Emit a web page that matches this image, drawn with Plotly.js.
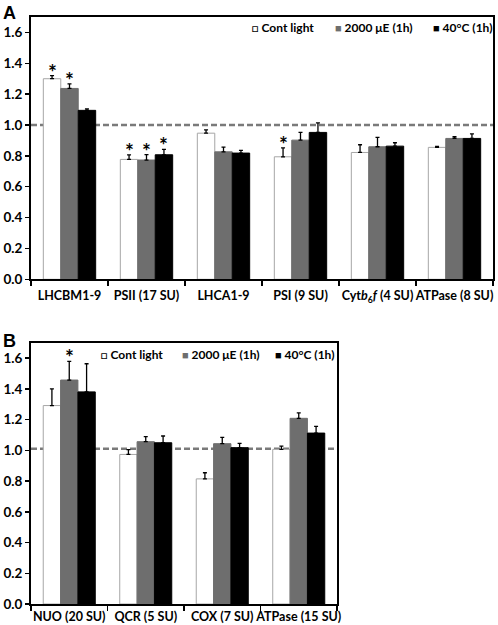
<!DOCTYPE html>
<html>
<head>
<meta charset="utf-8">
<script src="https://cdn.plot.ly/plotly-3.0.1.min.js"></script>
<style>html,body{margin:0;padding:0;background:#fff;}#chart{width:498px;height:625px;}</style>
</head>
<body>
<div id="chart"></div>
<script>
// ---------- data ----------
const seriesNames = ["Cont light", "2000 μE (1h)", "40°C (1h)"];

const categoriesA = ["LHCBM1-9", "PSII (17 SU)", "LHCA1-9", "PSI (9 SU)", "Cyt<i>b</i><sub>6</sub><i>f</i> (4 SU)", "ATPase (8 SU)"];
const contA    = [1.300, 0.777, 0.947, 0.794, 0.822, 0.855];
const contErrA = [0.020, 0.030, 0.022, 0.058, 0.050, 0.006];
const hlA      = [1.237, 0.773, 0.826, 0.902, 0.859, 0.913];
const hlErrA   = [0.030, 0.035, 0.031, 0.050, 0.061, 0.011];
const heatA    = [1.095, 0.807, 0.818, 0.952, 0.863, 0.913];
const heatErrA = [0.010, 0.035, 0.017, 0.062, 0.022, 0.030];
// significance flags [cont, 2000uE, 40C] per category
const sigA = [[1,1,0],[1,1,1],[0,0,0],[1,0,0],[0,0,0],[0,0,0]];

const categoriesB = ["NUO (20 SU)", "QCR (5 SU)", "COX (7 SU)", "ATPase (15 SU)"];
const contB    = [1.291, 0.973, 0.814, 1.006];
const contErrB = [0.109, 0.031, 0.040, 0.021];
const hlB      = [1.457, 1.056, 1.043, 1.208];
const hlErrB   = [0.121, 0.033, 0.041, 0.035];
const heatB    = [1.380, 1.049, 1.017, 1.112];
const heatErrB = [0.183, 0.044, 0.028, 0.044];
const sigB = [[0,1,0],[0,0,0],[0,0,0],[0,0,0]];

const refLineA = 1.0;
const refLineB = 1.01;
const yTicks = [0, 0.2, 0.4, 0.6, 0.8, 1.0, 1.2, 1.4, 1.6];

// ---------- styling ----------
const fills = ["#ffffff", "#6e6e6e", "#000000"];
const edges = ["#a6a6a6", "#6e6e6e", "#000000"];
const FONT = "Lato, 'Open Sans', sans-serif";
const bargap = 0.32;
const W = 498, H = 625;

function barTrace(cats, vals, errs, i, xa, ya) {
  return {
    type: "bar", x: cats, y: vals, name: seriesNames[i],
    xaxis: xa, yaxis: ya, showlegend: false,
    marker: { color: fills[i], line: { color: edges[i], width: 1 } },
    error_y: { type: "data", symmetric: false, array: errs, arrayminus: errs.map(() => 0),
               color: "#000", thickness: 1.3, width: 2 }
  };
}

const data = [
  barTrace(categoriesA, contA, contErrA, 0, "x", "y"),
  barTrace(categoriesA, hlA, hlErrA, 1, "x", "y"),
  barTrace(categoriesA, heatA, heatErrA, 2, "x", "y"),
  barTrace(categoriesB, contB, contErrB, 0, "x2", "y2"),
  barTrace(categoriesB, hlB, hlErrB, 1, "x2", "y2"),
  barTrace(categoriesB, heatB, heatErrB, 2, "x2", "y2")
];

// asterisks above error bars
const barW = (1 - bargap) / 3;
const annotations = [];
function addStars(sig, valsList, errList, xref, yref) {
  sig.forEach((row, c) => {
    row.forEach((flag, s) => {
      if (!flag) return;
      annotations.push({
        xref: xref, yref: yref, x: c + (s - 1) * barW, y: valsList[s][c] + errList[s][c],
        text: "*", showarrow: false, yanchor: "bottom", xanchor: "center", yshift: -10,
        font: { family: FONT, size: 21, color: "#000", weight: 700 }
      });
    });
  });
}
addStars(sigA, [contA, hlA, heatA], [contErrA, hlErrA, heatErrA], "x", "y");
addStars(sigB, [contB, hlB, heatB], [contErrB, hlErrB, heatErrB], "x2", "y2");

// legends as text
const legFont = { family: FONT, size: 12, color: "#000", weight: 700 };
const sq = ['<span style="font-size:11px">□</span>',
            '<span style="color:#6e6e6e;font-size:11px">■</span>',
            '<span style="color:#000;font-size:11px">■</span>'];
const legA = [250, 333, 431], legB = [99, 180, 273];
legA.forEach((px, i) => annotations.push({ xref: "paper", yref: "paper", x: px / W, y: 1 - 28 / H,
  xanchor: "left", yanchor: "middle", showarrow: false, text: sq[i] + " " + seriesNames[i], font: legFont }));
legB.forEach((px, i) => annotations.push({ xref: "paper", yref: "paper", x: px / W, y: 1 - 354 / H,
  xanchor: "left", yanchor: "middle", showarrow: false, text: sq[i] + " " + seriesNames[i], font: legFont }));

// panel letters
annotations.push({ xref: "paper", yref: "paper", x: 0.002, y: 1 - 1 / H, xanchor: "left", yanchor: "top",
  showarrow: false, text: "A", font: { family: "Liberation Sans, Arial, sans-serif", size: 18, color: "#000", weight: 700 } });
annotations.push({ xref: "paper", yref: "paper", x: 0.002, y: 1 - 329 / H, xanchor: "left", yanchor: "top",
  showarrow: false, text: "B", font: { family: "Liberation Sans, Arial, sans-serif", size: 18, color: "#000", weight: 700 } });

const tickFont = { family: FONT, size: 12.5, color: "#000", weight: 700 };
function xAxis(domain, anchor, standoff) {
  return { domain: domain, anchor: anchor, type: "category", showline: true, linecolor: "#000", linewidth: 2,
    mirror: true, ticks: "outside", tickson: "boundaries", ticklen: 5, tickwidth: 1.5, tickcolor: "#000",
    tickangle: 0, ticklabelstandoff: standoff, automargin: false, tickfont: tickFont, showgrid: false,
    zeroline: false, fixedrange: true };
}
function yAxis(domain, anchor) {
  return { domain: domain, anchor: anchor, range: [0, 1.7], tickvals: yTicks, tickformat: ".1f",
    showline: true, linecolor: "#000", linewidth: 2, mirror: true, ticks: "outside", ticklen: 4,
    tickwidth: 1.5, tickcolor: "#000", tickfont: { family: FONT, size: 13.5, color: "#000", weight: 700 },
    showgrid: false, zeroline: false, fixedrange: true };
}

const layout = {
  width: W, height: H, margin: { l: 0, r: 0, t: 0, b: 0 },
  paper_bgcolor: "#fff", plot_bgcolor: "#fff",
  barmode: "group", bargap: bargap, bargroupgap: 0, showlegend: false,
  xaxis: xAxis([31 / W, 493 / W], "y", 4),
  yaxis: yAxis([1 - 279.3 / H, 1 - 17 / H], "x"),
  xaxis2: xAxis([31 / W, 337 / W], "y2", 0),
  yaxis2: yAxis([1 - 604 / H, 1 - 342.7 / H], "x2"),
  shapes: [
    { type: "line", layer: "below", xref: "x domain", yref: "y", x0: 0, x1: 1, y0: refLineA, y1: refLineA,
      line: { color: "#7a7a7a", width: 2.5, dash: "6px,3px" } },
    { type: "line", layer: "below", xref: "x2 domain", yref: "y2", x0: 0, x1: 1, y0: refLineB, y1: refLineB,
      line: { color: "#7a7a7a", width: 2.5, dash: "6px,3px" } }
  ],
  annotations: annotations
};

Plotly.newPlot("chart", data, layout, { displayModeBar: false, staticPlot: true });
</script>
</body>
</html>
